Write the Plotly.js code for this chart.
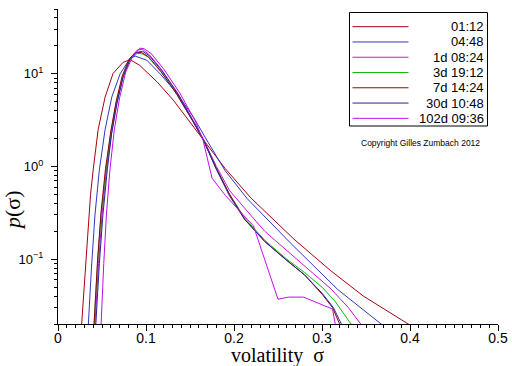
<!DOCTYPE html>
<html>
<head>
<meta charset="utf-8">
<script src="https://cdn.plot.ly/plotly-3.0.1.min.js"></script>
<style>html,body{margin:0;padding:0;background:#fff;}#chart{width:512px;height:366px;}</style>
</head>
<body>
<div id="chart"></div>
<script>
// ---- data ----
const seriesNames = ["01:12", "04:48", "1d 08:24", "3d 19:12", "7d 14:24", "30d 10:48", "102d 09:36"];
const seriesColors = ["#a80010", "#3434c4", "#d010d0", "#10b810", "#900010", "#2424a0", "#c010e4"];

const sigma_0112 = [0.024, 0.027, 0.030, 0.034, 0.037, 0.040, 0.0456, 0.0535, 0.0626, 0.074, 0.082, 0.093, 0.113, 0.131, 0.154, 0.170, 0.190, 0.219, 0.268, 0.310, 0.347, 0.398, 0.41];
const p_0112     = [0.008, 0.02, 0.06, 0.22, 0.5, 0.92, 2.5, 5.6, 10.1, 13.3, 14.2, 12.3, 8.1, 5.2, 2.66, 1.7, 0.95, 0.46, 0.165, 0.075, 0.04, 0.02, 0.017];

const sigma_0448 = [0.031, 0.0345, 0.038, 0.042, 0.047, 0.0535, 0.0611, 0.0706, 0.082, 0.0877, 0.101, 0.116, 0.135, 0.154, 0.169, 0.190, 0.215, 0.264, 0.318, 0.367, 0.38];
const p_0448     = [0.008, 0.02, 0.08, 0.3, 0.92, 2.5, 5.6, 10, 14.7, 15.5, 14, 10, 6.2, 3.4, 1.93, 0.9, 0.45, 0.15, 0.047, 0.02, 0.016];

const sigma_1d = [0.039, 0.042, 0.046, 0.050, 0.055, 0.061, 0.067, 0.074, 0.082, 0.090, 0.096, 0.104, 0.118, 0.136, 0.154, 0.165, 0.180, 0.195, 0.215, 0.235, 0.250, 0.280, 0.310, 0.330, 0.344, 0.35];
const p_1d     = [0.008, 0.02, 0.09, 0.3, 0.92, 2.3, 4.9, 9.5, 14.8, 18.0, 18.4, 16.0, 11.0, 6.2, 3.1, 2.0, 1.0, 0.55, 0.33, 0.2, 0.15, 0.085, 0.048, 0.03, 0.02, 0.016];

const sigma_3d = [0.038, 0.041, 0.045, 0.049, 0.0545, 0.060, 0.066, 0.0735, 0.081, 0.090, 0.096, 0.103, 0.117, 0.135, 0.154, 0.165, 0.180, 0.195, 0.212, 0.235, 0.260, 0.280, 0.300, 0.315, 0.333, 0.34];
const p_3d     = [0.008, 0.02, 0.09, 0.3, 0.92, 2.3, 4.8, 9.2, 14.2, 16.6, 16.4, 15, 10.5, 6.0, 3.0, 1.95, 0.95, 0.5, 0.28, 0.16, 0.1, 0.072, 0.05, 0.035, 0.02, 0.016];

const sigma_7d = [0.038, 0.041, 0.045, 0.049, 0.054, 0.060, 0.066, 0.073, 0.081, 0.088, 0.095, 0.103, 0.117, 0.135, 0.154, 0.165, 0.180, 0.195, 0.212, 0.235, 0.260, 0.280, 0.300, 0.312, 0.320, 0.325];
const p_7d     = [0.008, 0.02, 0.1, 0.33, 0.95, 2.4, 5.0, 9.5, 14.5, 16.8, 17.0, 15.2, 10.6, 6.0, 3.0, 1.95, 0.95, 0.5, 0.27, 0.155, 0.097, 0.068, 0.042, 0.03, 0.02, 0.015];

const sigma_30d = [0.040, 0.043, 0.047, 0.051, 0.056, 0.061, 0.067, 0.074, 0.082, 0.089, 0.096, 0.104, 0.118, 0.136, 0.154, 0.165, 0.180, 0.195, 0.212, 0.235, 0.260, 0.280, 0.300, 0.313, 0.322, 0.327];
const p_30d     = [0.008, 0.02, 0.09, 0.3, 0.92, 2.3, 4.8, 9.2, 14.3, 17.0, 17.5, 15.6, 10.8, 6.1, 3.0, 1.95, 0.93, 0.48, 0.27, 0.155, 0.097, 0.068, 0.043, 0.03, 0.02, 0.015];

const sigma_102d = [0.045, 0.049, 0.052, 0.055, 0.059, 0.064, 0.070, 0.077, 0.085, 0.093, 0.098, 0.106, 0.120, 0.138, 0.156, 0.165, 0.175, 0.190, 0.215, 0.222, 0.250, 0.262, 0.279, 0.312, 0.315, 0.316];
const p_102d     = [0.008, 0.02, 0.09, 0.3, 0.92, 2.5, 5.5, 10.5, 15.5, 18.9, 18.6, 16.5, 11.3, 6.3, 3.1, 1.9, 0.75, 0.49, 0.27, 0.23, 0.037, 0.039, 0.039, 0.029, 0.02, 0.01];

const xTickVals = [0, 0.1, 0.2, 0.3, 0.4, 0.5];
const xTickText = ["0", "0.1", "0.2", "0.3", "0.4", "0.5"];
const yTickVals = [0.1, 1, 10];
const yTickText = ["10<sup>−1</sup>", "10<sup>0</sup>", "10<sup>1</sup>"];
const yMinorVals = [0.02,0.03,0.04,0.05,0.06,0.07,0.08,0.09,0.2,0.3,0.4,0.5,0.6,0.7,0.8,0.9,2,3,4,5,6,7,8,9,20,30,40,50];
const copyrightText = "Copyright Gilles Zumbach 2012";
const xTitle = "volatility&nbsp;&nbsp;σ";
const yTitle = "<i>p</i>(σ)";

const sigmas = [sigma_0112, sigma_0448, sigma_1d, sigma_3d, sigma_7d, sigma_30d, sigma_102d];
const probs  = [p_0112, p_0448, p_1d, p_3d, p_7d, p_30d, p_102d];

// ---- traces ----
const traces = seriesNames.map((n, i) => ({
  type: 'scatter', mode: 'lines', name: n,
  x: sigmas[i], y: probs[i],
  line: {color: seriesColors[i], width: 1},
  showlegend: false, hoverinfo: 'skip'
}));

// ---- hand-drawn legend (box on the right, lines then right-aligned labels) ----
const plotTop = 9, plotH = 315, plotL = 58, plotW = 440;
const px2x = p => (p - plotL) / plotW;
const py2y = p => (plotTop + plotH - p) / plotH;
const shapes = [{
  type: 'rect', xref: 'paper', yref: 'paper',
  x0: px2x(349.5), x1: px2x(487.5), y0: py2y(126), y1: py2y(12.5),
  line: {color: 'black', width: 1}, fillcolor: 'white'
}];
const annotations = [];
seriesNames.forEach((n, i) => {
  const yy = py2y(26.7 + i * 15.27);
  shapes.push({type: 'line', xref: 'paper', yref: 'paper',
    x0: px2x(352.5), x1: px2x(408.5), y0: yy, y1: yy,
    line: {color: seriesColors[i], width: 1}});
  annotations.push({xref: 'paper', yref: 'paper', x: px2x(485.5), y: yy,
    xanchor: 'right', yanchor: 'middle', text: n, showarrow: false,
    font: {family: 'Liberation Sans, Arial, sans-serif', size: 13, color: 'black'}});
});
annotations.push({xref: 'paper', yref: 'paper', x: px2x(420), y: py2y(142.5),
  xanchor: 'center', yanchor: 'middle', text: copyrightText, showarrow: false,
  font: {family: 'Liberation Sans, Arial, sans-serif', size: 8.5, color: 'black'}});
annotations.push({xref: 'paper', yref: 'paper', x: px2x(277), y: py2y(355),
  xanchor: 'center', yanchor: 'middle', text: xTitle, showarrow: false,
  font: {family: 'Liberation Serif, Times New Roman, serif', size: 20, color: 'black'}});
annotations.push({xref: 'paper', yref: 'paper', x: px2x(13), y: py2y(210),
  xanchor: 'center', yanchor: 'middle', text: yTitle, showarrow: false, textangle: -90,
  font: {family: 'Liberation Serif, Times New Roman, serif', size: 22, color: 'black'}});

const xTickFont = {family: 'Liberation Sans, Arial, sans-serif', size: 14, color: 'black'};
const yTickFont = {family: 'Liberation Sans, Arial, sans-serif', size: 13, color: 'black'};
const layout = {
  width: 512, height: 366,
  margin: {l: 58, r: 14, t: 9, b: 42},
  paper_bgcolor: 'white', plot_bgcolor: 'white',
  showlegend: false,
  xaxis: {
    range: [0, 0.5], tickmode: 'array', tickvals: xTickVals, ticktext: xTickText,
    ticks: 'outside', ticklen: 6, tickwidth: 1, tickcolor: 'black',
    showline: true, linecolor: 'black', linewidth: 1,
    showgrid: false, zeroline: false, tickfont: xTickFont, ticklabelstandoff: -5,
    minor: {dtick: 0.01, ticks: 'outside', ticklen: 3, tickwidth: 1, tickcolor: 'black', showgrid: false}
  },
  yaxis: {
    type: 'log', range: [Math.log10(0.02), Math.log10(50)],
    tickmode: 'array', tickvals: yTickVals, ticktext: yTickText,
    ticks: 'outside', ticklen: 6, tickwidth: 1, tickcolor: 'black',
    showline: true, linecolor: 'black', linewidth: 1,
    showgrid: false, zeroline: false, tickfont: yTickFont, ticklabelstandoff: 5,
    minor: {tickmode: 'array', tickvals: yMinorVals, ticks: 'outside', ticklen: 3, tickwidth: 1, tickcolor: 'black', showgrid: false}
  },
  shapes: shapes,
  annotations: annotations
};

Plotly.newPlot('chart', traces, layout, {staticPlot: true, displayModeBar: false});
</script>
</body>
</html>
